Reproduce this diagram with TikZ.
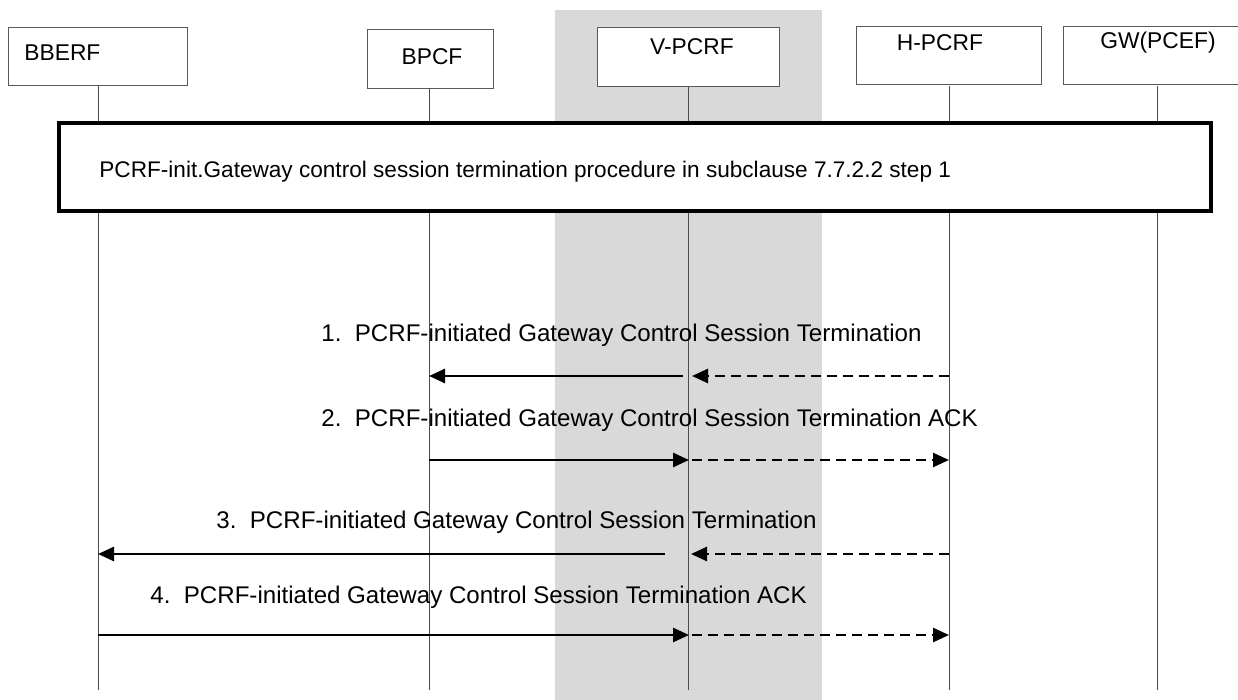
\documentclass[tikz,border=0pt]{standalone}
\usepackage{fontspec}
\setmainfont{Liberation Sans}
\usetikzlibrary{arrows.meta}
\begin{document}
\begin{tikzpicture}[x=0.5pt,y=-0.5pt,
  entitybox/.style={draw=black!65, line width=0.5pt, fill=white, inner sep=0pt},
  entitytext/.style={inner sep=0pt, font=\fontsize{11.4}{13}\selectfont},
  lifeline/.style={draw=black!70, line width=0.5pt},
  procbox/.style={draw=black, line width=2pt, fill=white, inner sep=0pt, minimum width=576pt, minimum height=44pt},
  msgtext/.style={inner sep=0pt, anchor=west, font=\fontsize{12.05}{14}\selectfont},
  msgsolid/.style={line width=1.3pt, -{Triangle[length=8pt,width=7pt]}},
  msgdash/.style={line width=1.3pt, dash pattern=on 5pt off 3pt, -{Triangle[length=8pt,width=7pt]}}
]
\useasboundingbox (0,0) rectangle (1238,700);
\fill[gray!30] (555,10) rectangle (822,700);

% lifeline end points
\coordinate (bbeT) at (98,86);    \coordinate (bbeB) at (98,690);
\coordinate (bpcT) at (429,89);   \coordinate (bpcB) at (429,690);
\coordinate (vpcT) at (688.5,87); \coordinate (vpcB) at (688.5,690);
\coordinate (hpcT) at (949,86);   \coordinate (hpcB) at (949,690);
\coordinate (gwT) at (1157,86);   \coordinate (gwB) at (1157,690);

\draw[lifeline] (bbeT) -- (bbeB);
\draw[lifeline] (bpcT) -- (bpcB);
\draw[lifeline] (vpcT) -- (vpcB);
\draw[lifeline] (hpcT) -- (hpcB);
\draw[lifeline] (gwT) -- (gwB);

% entity boxes
\node[entitybox, minimum width=89.5pt, minimum height=29pt] (bbe) at (97.5,57) {};
\node[entitytext, anchor=west] (bbeL) at (24,53) {BBERF};
\node[entitybox, minimum width=63pt, minimum height=29.5pt] (bpc) at (430,59.5) {};
\node[entitytext] (bpcL) at (432,57) {BPCF};
\node[entitybox, minimum width=91pt, minimum height=29.5pt] (vpc) at (688,57.5) {};
\node[entitytext] (vpcL) at (692,47) {V-PCRF};
\node[entitybox, minimum width=92.5pt, minimum height=29pt] (hpc) at (948.5,56) {};
\node[entitytext] (hpcL) at (940,43) {H-PCRF};
\node[entitybox, minimum width=87.5pt, minimum height=29pt] (gw) at (1150.5,56) {};
\node[entitytext] (gwL) at (1158,43) {GW(PCEF)};

% procedure box
\node[procbox] (proc) at (635,167) {};
\node[inner sep=0pt, anchor=west, font=\fontsize{11.3}{13}\selectfont] (procL) at (99,172) {PCRF-init.Gateway control session termination procedure in subclause 7.7.2.2 step 1};

% message coordinates
\coordinate (m1s) at (683,376);   \coordinate (m1e) at (429,376);
\coordinate (m1ds) at (949,376);  \coordinate (m1de) at (692,376);
\coordinate (m2s) at (429,460);   \coordinate (m2e) at (689,460);
\coordinate (m2ds) at (692,460);  \coordinate (m2de) at (949,460);
\coordinate (m3s) at (665,554);   \coordinate (m3e) at (98,554);
\coordinate (m3ds) at (949,554);  \coordinate (m3de) at (691,554);
\coordinate (m4s) at (98,635);    \coordinate (m4e) at (689,635);
\coordinate (m4ds) at (692,635);  \coordinate (m4de) at (949,635);

\node[msgtext] (t1) at (321,335) {1.\ \ PCRF-initiated Gateway Control Session Termination};
\draw[msgsolid] (m1s) -- (m1e);
\draw[msgdash] (m1ds) -- (m1de);

\node[msgtext] (t2) at (321,420) {2.\ \ PCRF-initiated Gateway Control Session Termination ACK};
\draw[msgsolid] (m2s) -- (m2e);
\draw[msgdash] (m2ds) -- (m2de);

\node[msgtext] (t3) at (216,522) {3.\ \ PCRF-initiated Gateway Control Session Termination};
\draw[msgsolid] (m3s) -- (m3e);
\draw[msgdash] (m3ds) -- (m3de);

\node[msgtext] (t4) at (150,597) {4.\ \ PCRF-initiated Gateway Control Session Termination ACK};
\draw[msgsolid] (m4s) -- (m4e);
\draw[msgdash] (m4ds) -- (m4de);
\end{tikzpicture}
\end{document}
